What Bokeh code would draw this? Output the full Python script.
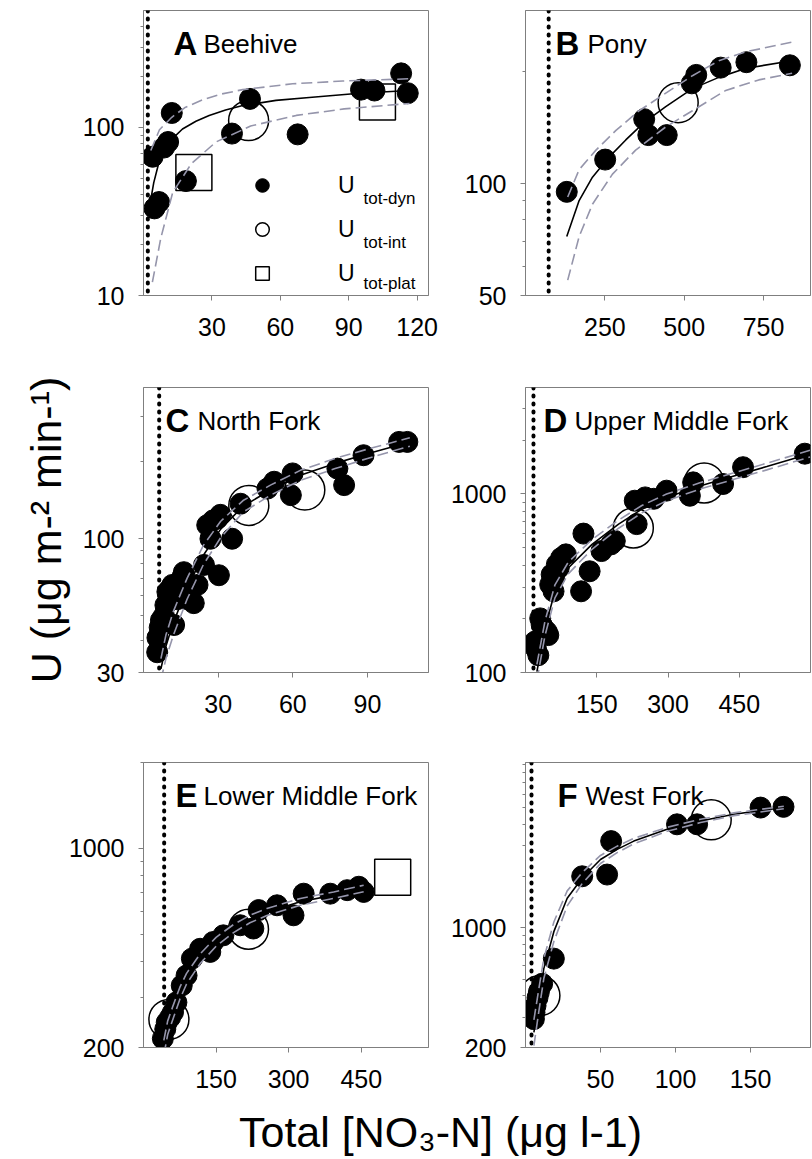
from bokeh.plotting import figure
from bokeh.layouts import column, row
from bokeh.models import (FixedTicker, NumeralTickFormatter, Span, Label, Legend,
                          LegendItem, Range1d)
from bokeh.core.properties import value
from bokeh.embed import file_html
from bokeh.resources import INLINE

FONT = "Liberation Sans"

# ---------------- data ----------------
# A Beehive
a_dyn_x = [4.0, 4.8, 6.8, 9.0, 10.8, 12.4, 18.6, 38.8, 46.7, 67.6, 95.4, 101.3, 113.0, 115.9]
a_dyn_y = [67, 33, 36, 76, 82, 122, 48, 92, 148, 91, 168, 166, 210, 160]
a_int_x = [46.1]
a_int_y = [110]
a_plat_x = [22.1, 102.6]
a_plat_y = [54, 142]
a_fit_x = [3.0, 4.5, 6.5, 9.8, 13.5, 17.1, 23, 28.8, 36, 43.5, 58.1, 72.7, 94.7, 116.6]
a_fit_y = [36, 47, 60, 76, 88, 98, 109, 118, 127, 135, 145, 151, 160, 166]
a_up_x = [3.2, 7.0, 12.4, 18, 25.9, 34, 43.5, 65.4, 87.4, 116.6]
a_up_y = [73, 97, 115, 131, 146, 158, 168, 182, 189, 195]
a_lo_x = [3.9, 7.6, 12.8, 21, 31.8, 47, 67, 88, 116.7]
a_lo_y = [12, 22, 41, 61, 82, 102, 118, 129, 139]

# B Pony
b_dyn_x = [130, 251, 374, 387, 445, 524, 538, 615, 696, 833]
b_dyn_y = [95, 116, 149, 135, 135, 186, 196, 205, 212, 208]
b_int_x = [481]
b_int_y = [165]
b_fit_x = [130, 169, 211, 264, 316, 374, 442, 526, 609, 693, 840]
b_fit_y = [72, 90, 104, 118, 131, 146, 161, 180, 193, 204, 214]
b_up_x = [133, 169, 222, 285, 358, 442, 526, 609, 693, 840]
b_up_y = [92, 109, 123, 139, 157, 175, 195, 214, 226, 240]
b_lo_x = [133, 169, 211, 274, 347, 442, 526, 631, 735, 840]
b_lo_y = [55, 72, 88, 106, 123, 142, 157, 178, 190, 198]

# C North Fork
c_dyn_x = [5.5, 5.6, 6.5, 7.0, 8.2, 8.8, 9.6, 10.8, 11.6, 12.3, 13.5, 15.7, 16.2, 17.7, 18.9,
           20.2, 21.7, 24.3, 25.6, 26.9, 28.0, 29.7, 30.3, 30.9, 35.6, 39.0, 49.8, 52.5, 59.2,
           59.9, 77.9, 80.6, 88.4, 102.7, 106.0]
c_dyn_y = [36, 41, 45, 48, 50, 55, 62, 64, 66, 46, 58, 71, 74, 58, 64, 56, 66, 79, 113, 100,
           118, 120, 72, 124, 100, 137, 157, 167, 148, 180, 188, 162, 212, 239, 239]
c_int_x = [42.3, 64.8]
c_int_y = [135, 155]
c_fit_x = [7, 9, 12, 17.5, 24, 31, 40, 51, 63, 77, 90, 107]
c_fit_y = [31, 38, 47, 64, 86, 109, 134, 155, 177, 197, 215, 239]
c_up_y = [34, 42, 52, 70, 94, 117, 141, 162, 185, 206, 224, 248]
c_lo_y = [28, 34, 42, 58, 79, 101, 127, 148, 169, 188, 206, 230]

# D Upper Middle Fork
d_dyn_x = [20, 22, 27, 31, 34, 38, 45, 48, 52, 55, 59, 60, 66, 70, 75, 85, 117, 122, 135, 160,
           180, 188, 230, 234, 252, 270, 297, 346, 353, 416, 458, 588]
d_dyn_y = [149, 136, 125, 201, 185, 177, 169, 162, 311, 354, 285, 339, 403, 385, 438, 459, 285,
           600, 369, 479, 522, 546, 917, 678, 957, 940, 1044, 978, 1162, 1138, 1413, 1682]
d_int_x = [227, 376]
d_int_y = [645, 1153]
d_fit_x = [24, 41, 62, 90, 140, 196, 245, 297, 367, 437, 508, 599]
d_fit_y = [101, 177, 285, 385, 522, 678, 822, 957, 1109, 1256, 1425, 1682]
d_up_y = [111, 194, 310, 415, 556, 715, 862, 1000, 1155, 1310, 1488, 1756]
d_lo_y = [90, 161, 262, 357, 490, 643, 784, 916, 1065, 1204, 1365, 1611]

# E Lower Middle Fork
e_dyn_x = [40, 45, 48, 55, 61, 68, 79, 89, 100, 117, 138, 144, 165, 200, 227, 238, 276, 310,
           331, 386, 421, 445, 455]
e_dyn_y = [215, 232, 245, 255, 266, 288, 330, 358, 410, 444, 433, 469, 495, 537, 523, 607, 631,
           582, 693, 693, 713, 733, 703]
e_int_x = [52.5, 217]
e_int_y = [251, 520]
e_plat_x = [515]
e_plat_y = [791]
e_fit_x = [42, 50, 61, 75, 89, 117, 150, 186, 220, 255, 324, 393, 455]
e_fit_y = [200, 235, 266, 310, 349, 410, 470, 523, 565, 598, 649, 685, 723]
e_up_y = [212, 248, 280, 325, 364, 426, 487, 540, 582, 615, 667, 703, 742]
e_lo_y = [188, 222, 252, 295, 334, 394, 453, 506, 548, 581, 631, 667, 704]

# F West Fork
f_dyn_x = [5.6, 6.0, 6.7, 8.0, 8.9, 11.1, 18.9, 37.8, 54.4, 57.1, 101, 114.4, 156.7, 172]
f_dyn_y = [293, 320, 351, 390, 421, 471, 660, 1995, 2042, 3200, 4010, 4010, 5020, 5070]
f_int_x = [9.6, 123.8]
f_int_y = [402, 4257]
f_fit_x = [5.6, 8.9, 12.2, 18.9, 27.8, 37.8, 50, 61.1, 72.2, 94.4, 116.7, 138.9, 172.2]
f_fit_y = [245, 376, 577, 948, 1486, 1950, 2500, 2863, 3200, 3748, 4197, 4593, 5026]
f_up_y = [290, 440, 660, 1080, 1640, 2100, 2640, 2990, 3320, 3850, 4290, 4680, 5110]
f_lo_y = [205, 325, 505, 830, 1340, 1810, 2370, 2740, 3085, 3650, 4105, 4505, 4940]

# ambient (background) concentrations: dotted lines
ambient = {"A": 1.9, "B": 73, "C": 6.3, "D": 16.8, "E": 42.7, "F": 4.0}

panel_names = ["Beehive", "Pony", "North Fork", "Upper Middle Fork", "Lower Middle Fork", "West Fork"]

x_ticks = {"A": [30, 60, 90, 120], "B": [250, 500, 750], "C": [30, 60, 90],
           "D": [150, 300, 450], "E": [150, 300, 450], "F": [50, 100, 150]}
y_ticks = {"A": [10, 100], "B": [50, 100], "C": [30, 100],
           "D": [100, 1000], "E": [200, 1000], "F": [200, 1000]}
y_minor = {"A": [20, 30, 40, 50, 60, 70, 80, 90, 200, 300, 400],
           "B": [60, 70, 80, 90, 200],
           "C": [40, 50, 60, 70, 80, 90, 200, 300],
           "D": [200, 300, 400, 500, 600, 700, 800, 900, 2000, 3000],
           "E": [300, 400, 500, 600, 700, 800, 900, 2000],
           "F": [300, 400, 500, 600, 700, 800, 900, 2000, 3000, 4000, 5000, 6000, 7000, 8000, 9000]}
x_ranges = {"A": (0, 125), "B": (0, 898), "C": (0, 114.5), "D": (0, 600), "E": (0, 589), "F": (0, 190)}
y_ranges = {"A": (10, 497), "B": (50, 292), "C": (30, 390), "D": (100, 3950), "E": (200, 2000), "F": (200, 9200)}

AX = "#7f7f7f"
BAND = "#9595ab"


def make_panel(key, name, side, bottom, letter_x, name_x,
               dx, dy, fx, fy, ux, uy, lx, ly, ix=None, iy=None, px=None, py=None, ylabel=None):
    mbl, mbr = (143, 12) if side == "left" else (85, 2)
    p = figure(x_range=Range1d(*x_ranges[key]), y_range=Range1d(*y_ranges[key]),
               y_axis_type="log", frame_width=285, frame_height=285,
               min_border_left=mbl, min_border_right=mbr, min_border_top=10,
               min_border_bottom=bottom, toolbar_location=None, output_backend="svg",
               background_fill_color="white", border_fill_color="white",
               outline_line_color=AX, outline_line_width=1)
    p.xgrid.visible = False
    p.ygrid.visible = False
    p.xaxis.ticker = FixedTicker(ticks=x_ticks[key], minor_ticks=[])
    p.yaxis.ticker = FixedTicker(ticks=y_ticks[key], minor_ticks=y_minor[key])
    p.xaxis.formatter = NumeralTickFormatter(format="0")
    p.yaxis.formatter = NumeralTickFormatter(format="0")
    for ax in (p.xaxis[0], p.yaxis[0]):
        ax.axis_line_color = AX
        ax.major_tick_line_color = AX
        ax.minor_tick_line_color = AX
        ax.major_tick_in = 0
        ax.major_tick_out = 5
        ax.minor_tick_in = 0
        ax.minor_tick_out = 3
        ax.major_label_text_font = FONT
        ax.major_label_text_font_size = "25px"
        ax.major_label_text_color = "black"
    p.xaxis.major_label_standoff = 17
    p.yaxis.major_label_standoff = 14
    if ylabel:
        p.yaxis.axis_label = ylabel
        p.yaxis.axis_label_text_font = FONT
        p.yaxis.axis_label_text_font_size = "43px"
        p.yaxis.axis_label_text_font_style = "normal"
        p.yaxis.axis_label_text_color = "black"
        p.yaxis.axis_label_standoff = 10

    p.add_layout(Span(location=ambient[key], dimension="height", line_color="black",
                      line_width=4, line_dash="1 7", line_cap="round", level="underlay"))

    r_dyn = p.scatter(dx, dy, marker="circle", size=21, fill_color="black", line_color="black")
    r_int = r_plat = None
    if ix is not None:
        r_int = p.scatter(ix, iy, marker="circle", size=40, fill_color=None,
                          line_color="black", line_width=1.5)
    if px is not None:
        r_plat = p.scatter(px, py, marker="square", size=36, fill_color=None,
                           line_color="black", line_width=1.5)
    p.line(fx, fy, line_color="black", line_width=1.6)
    p.line(ux, uy, line_color=BAND, line_width=1.6, line_dash="11 5")
    p.line(lx, ly, line_color=BAND, line_width=1.6, line_dash="11 5")

    p.add_layout(Label(x=letter_x, y=252, x_units="screen", y_units="screen", text=key,
                       text_font=FONT, text_font_size="33px", text_font_style="bold",
                       text_baseline="alphabetic", text_color="black"))
    p.add_layout(Label(x=name_x, y=252, x_units="screen", y_units="screen", text=name,
                       text_font=FONT, text_font_size="26px", text_baseline="alphabetic",
                       text_color="black"))
    return p, r_dyn, r_int, r_plat


pA, rd, ri, rp = make_panel("A", panel_names[0], "left", 82, 30, 60,
                            a_dyn_x, a_dyn_y, a_fit_x, a_fit_y, a_up_x, a_up_y, a_lo_x, a_lo_y,
                            a_int_x, a_int_y, a_plat_x, a_plat_y)
legend = Legend(items=[LegendItem(label=value("U"), renderers=[rd]),
                       LegendItem(label=value("U"), renderers=[ri]),
                       LegendItem(label=value("U"), renderers=[rp])],
                location=(102, 5), glyph_width=34, glyph_height=34, spacing=10,
                padding=0, margin=0, label_standoff=59, label_text_font=FONT,
                label_text_font_size="23px", label_text_color="black",
                border_line_color=None, background_fill_alpha=0)
pA.add_layout(legend)
for txt, yy in (("tot-dyn", 97), ("tot-int", 53), ("tot-plat", 12)):
    pA.add_layout(Label(x=220, y=yy, x_units="screen", y_units="screen", text=txt,
                        text_font=FONT, text_font_size="17px", text_baseline="alphabetic",
                        text_color="black"))

pB, *_ = make_panel("B", panel_names[1], "right", 82, 30, 62,
                    b_dyn_x, b_dyn_y, b_fit_x, b_fit_y, b_up_x, b_up_y, b_lo_x, b_lo_y,
                    b_int_x, b_int_y)
pC, *_ = make_panel("C", panel_names[2], "left", 80, 22, 54,
                    c_dyn_x, c_dyn_y, c_fit_x, c_fit_y, c_fit_x, c_up_y, c_fit_x, c_lo_y,
                    c_int_x, c_int_y, ylabel="U (\u03bcg m-\u00b2 min-\u00b9)")
pD, *_ = make_panel("D", panel_names[3], "right", 80, 18, 49,
                    d_dyn_x, d_dyn_y, d_fit_x, d_fit_y, d_fit_x, d_up_y, d_fit_x, d_lo_y,
                    d_int_x, d_int_y)
pE, *_ = make_panel("E", panel_names[4], "left", 55, 32, 60,
                    e_dyn_x, e_dyn_y, e_fit_x, e_fit_y, e_fit_x, e_up_y, e_fit_x, e_lo_y,
                    e_int_x, e_int_y, e_plat_x, e_plat_y)
pF, *_ = make_panel("F", panel_names[5], "right", 55, 32, 60,
                    f_dyn_x, f_dyn_y, f_fit_x, f_fit_y, f_fit_x, f_up_y, f_fit_x, f_lo_y,
                    f_int_x, f_int_y)

xl = figure(width=812, height=57, x_range=(0, 812), y_range=(0, 57), toolbar_location=None,
            output_backend="svg", x_axis_location=None, y_axis_location=None,
            min_border=0, outline_line_color=None, background_fill_color="white",
            border_fill_color="white")
xl.xgrid.visible = False
xl.ygrid.visible = False
xl.add_layout(Label(x=440, y=28, text="Total [NO\u2083-N] (\u03bcg l-1)", text_font=FONT,
                    text_font_size="43px", text_align="center", text_baseline="alphabetic",
                    text_color="black"))

layout = column(row(pA, pB), row(pC, pD), row(pE, pF), xl)
open("out.html", "w").write(file_html(layout, INLINE))
